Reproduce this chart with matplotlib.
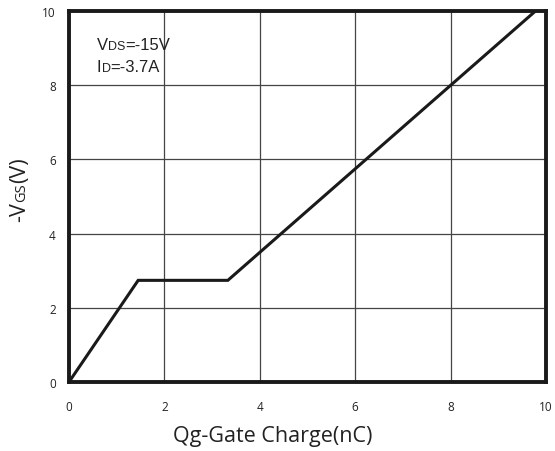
import matplotlib
matplotlib.use("Agg")
import matplotlib.pyplot as plt
from matplotlib.offsetbox import TextArea, HPacker, VPacker, AnchoredOffsetbox

# Data
qg = [0.0, 1.45, 3.33, 9.78]
vgs = [0.0, 2.74, 2.74, 10.0]
x_ticks = [0, 2, 4, 6, 8, 10]
y_ticks = [0, 2, 4, 6, 8, 10]

W, H = 555, 452
fig = plt.figure(figsize=(W/100, H/100), dpi=100)
ax = fig.add_axes([69/W, 1-383/H, (546-69)/W, (383-12)/H])

ax.plot(qg, vgs, color="#1a1a1a", lw=2.2, solid_joinstyle="miter", zorder=3)
ax.set_xlim(0, 10)
ax.set_ylim(0, 10)
ax.set_xticks(x_ticks)
ax.set_yticks(y_ticks)
ax.grid(True, color="#444444", lw=0.9)
for s in ax.spines.values():
    s.set_linewidth(2.8)
    s.set_color("#1a1a1a")
ax.tick_params(length=0, labelsize=8.5, labelcolor="#222222")
ax.tick_params(axis="x", pad=13)
ax.tick_params(axis="y", pad=9.5)
for lab in ax.get_xticklabels() + ax.get_yticklabels():
    lab.set_family("Open Sans")

# x label
fig.text(273/W, 1-442/H, "Qg-Gate Charge(nC)", family="Open Sans", fontsize=15.5,
         color="#222222", ha="center", va="baseline")

# y label built from pieces with a small "GS"
renderer = fig.canvas.get_renderer()
base_x = 25/W
y_cur = 222  # pixel from top where text starts (bottom of rotated label)
for txt, sz in [("-V", 15.5), ("GS", 10.5), ("(V)", 15.5)]:
    t = fig.text(base_x, 1-y_cur/H, txt, rotation=90, rotation_mode="anchor",
                 family="Open Sans", size=sz, color="#222222", ha="left", va="baseline")
    bb = t.get_window_extent(renderer)
    y_cur -= bb.height

def row(parts):
    return HPacker(children=[TextArea(t, textprops=dict(family="Liberation Sans", size=s, color="#222222")) for t, s in parts],
                   align="baseline", pad=0, sep=0)

box = VPacker(children=[row([("V", 12), ("DS", 9), ("=-15V", 12)]),
                        row([("I", 12), ("D", 9), ("=-3.7A", 12)])],
              align="left", pad=0, sep=5)
ab = AnchoredOffsetbox(loc="upper left", child=box, pad=0, frameon=False,
                       bbox_to_anchor=(97/W, 1-38/H), bbox_transform=fig.transFigure, borderpad=0)
fig.add_artist(ab)

fig.savefig("out.png", dpi=100, facecolor="white")
